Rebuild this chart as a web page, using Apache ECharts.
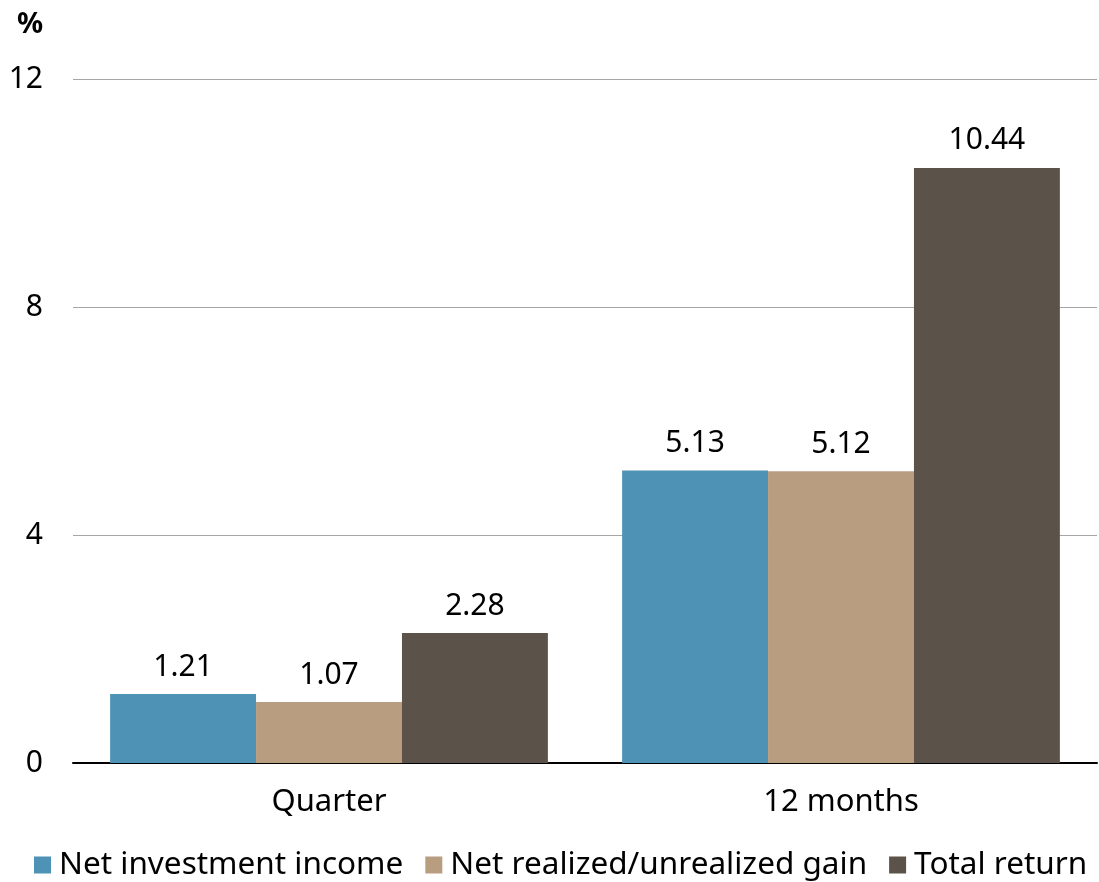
<!DOCTYPE html>
<html>
<head>
<meta charset="utf-8">
<script src="https://cdn.jsdelivr.net/npm/echarts@6/dist/echarts.min.js"></script>
<style>
  html, body { margin: 0; padding: 0; background: #fff; }
  #chart { width: 1099px; height: 882px; }
</style>
</head>
<body>
<div id="chart"></div>
<script>
// Return components, in percent
const categories = ['Quarter', '12 months'];
const netInvestmentIncome = [1.21, 5.13];
const netRealizedGain = [1.07, 5.12];
const totalReturn = [2.28, 10.44];
const seriesNames = ['Net investment income', 'Net realized/unrealized gain', 'Total return'];
const seriesColors = ['#4E93B6', '#B89D81', '#5B5249'];
const yTicks = { min: 0, max: 12, interval: 4 };

const FONT = 'Noto Sans';
const chart = echarts.init(document.getElementById('chart'), null, { renderer: 'canvas' });

function barSeries(name, data, color) {
  return {
    name: name,
    type: 'bar',
    data: data,
    barGap: '0%',
    barCategoryGap: '14.5%',
    itemStyle: { color: color },
    label: {
      show: true,
      position: 'top',
      distance: 12,
      color: '#000',
      fontFamily: FONT,
      fontSize: 30,
      formatter: p => p.value.toFixed(2)
    }
  };
}

chart.setOption({
  animation: false,
  backgroundColor: '#fff',
  graphic: [{
    type: 'text',
    left: 17,
    top: 10,
    style: { text: '%', fontFamily: FONT, fontSize: 29, fontWeight: 'bold', fill: '#000' }
  }],
  grid: { left: 73, right: 2, top: 79, bottom: 119, containLabel: false },
  legend: {
    left: 34,
    top: 849,
    width: 1065,
    padding: 0,
    itemWidth: 17,
    itemHeight: 17,
    itemGap: 22,
    icon: 'rect',
    data: seriesNames,
    textStyle: { fontFamily: FONT, fontSize: 31.5, lineHeight: 32, color: '#000', padding: [0, 0, 0, 3] }
  },
  xAxis: {
    type: 'category',
    data: categories,
    axisLine: { show: true, lineStyle: { color: '#000', width: 2 } },
    axisTick: { show: false },
    axisLabel: { color: '#000', fontFamily: FONT, fontSize: 31, margin: 24 }
  },
  yAxis: {
    type: 'value',
    min: yTicks.min,
    max: yTicks.max,
    interval: yTicks.interval,
    axisLine: { show: false },
    axisTick: { show: false },
    axisLabel: { color: '#000', fontFamily: FONT, fontSize: 30, margin: 30 },
    splitLine: { lineStyle: { color: '#A6A6A6', width: 1 } }
  },
  series: [
    barSeries(seriesNames[0], netInvestmentIncome, seriesColors[0]),
    barSeries(seriesNames[1], netRealizedGain, seriesColors[1]),
    barSeries(seriesNames[2], totalReturn, seriesColors[2])
  ]
});
</script>
</body>
</html>
